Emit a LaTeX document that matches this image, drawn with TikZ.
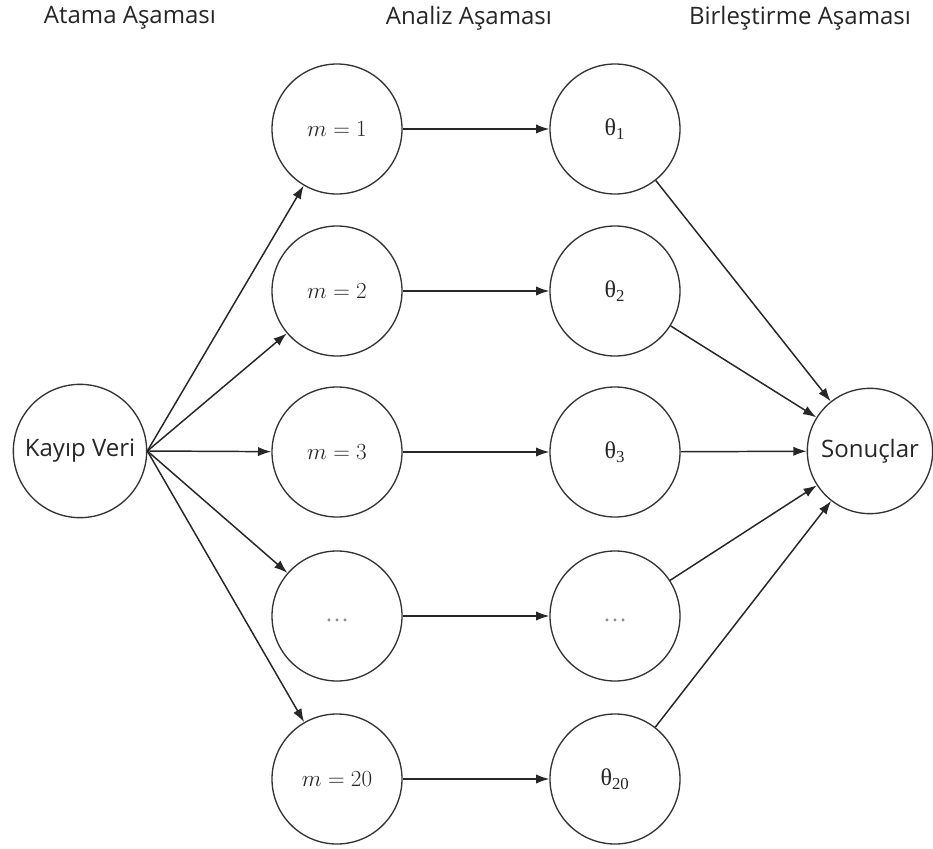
\documentclass[tikz,border=0pt]{standalone}
\usepackage{fontspec}
\setmainfont{Open Sans}
\newfontfamily\grfont{Liberation Serif}
\usetikzlibrary{arrows.meta}
\begin{document}
\begin{tikzpicture}[x=0.75pt,y=-0.75pt,
	daire/.style={draw=black!80,line width=1pt,circle,inner sep=0pt,minimum size=97.5pt,text=black!85,font=\fontsize{18}{22}\selectfont},
	ok/.style={draw=black!85,line width=1.1pt,-{Latex[length=10pt,width=7pt]}},
	baslik/.style={text=black!85,font=\fontsize{18}{22}\selectfont}]
	\useasboundingbox (0,0) rectangle (933,849);
	% basliklar
	\node[baslik] (atama) at (130,18) {Atama Aşaması};
	\node[baslik] (analiz) at (469,18) {Analiz Aşaması};
	\node[baslik] (birlestirme) at (800,18) {Birleştirme Aşaması};
	% daireler
	\node[daire,minimum size=100pt] (veri) at (80,451) {Kayıp Veri};
	\node[daire,font=\fontsize{19}{23}\selectfont] (m1) at (337,129) {$m=1$};
	\node[daire,font=\fontsize{19}{23}\selectfont] (m2) at (337,291) {$m=2$};
	\node[daire,font=\fontsize{19}{23}\selectfont] (m3) at (337,452) {$m=3$};
	\node[daire] (m4) at (337,616) {\raisebox{-8pt}{\textcolor{black!45}{\grfont\ldots}}};
	\node[daire,font=\fontsize{19}{23}\selectfont] (m5) at (337,779) {$m=20$};
	\node[daire] (t1) at (615,129) {{\grfont θ\textsubscript{1}}};
	\node[daire] (t2) at (615,291) {{\grfont θ\textsubscript{2}}};
	\node[daire] (t3) at (615,452) {{\grfont θ\textsubscript{3}}};
	\node[daire] (t4) at (615,616) {\raisebox{-8pt}{\textcolor{black!45}{\grfont\ldots}}};
	\node[daire] (t5) at (615,779) {{\grfont θ\textsubscript{20}}};
	\node[daire,minimum size=94pt] (sonuc) at (870,451) {Sonuçlar};
	% oklar
	\draw[ok] (veri.east) -- (m1);
	\draw[ok] (veri.east) -- (m2);
	\draw[ok] (veri.east) -- (m3);
	\draw[ok] (veri.east) -- (m4);
	\draw[ok] (veri.east) -- (m5);
	\draw[ok] (m1) -- (t1);
	\draw[ok] (m2) -- (t2);
	\draw[ok] (m3) -- (t3);
	\draw[ok] (m4) -- (t4);
	\draw[ok] (m5) -- (t5);
	\draw[ok] (t1) -- (sonuc);
	\draw[ok] (t2) -- (sonuc);
	\draw[ok] (t3) -- (sonuc);
	\draw[ok] (t4) -- (sonuc);
	\draw[ok] (t5) -- (sonuc);
\end{tikzpicture}
\end{document}
